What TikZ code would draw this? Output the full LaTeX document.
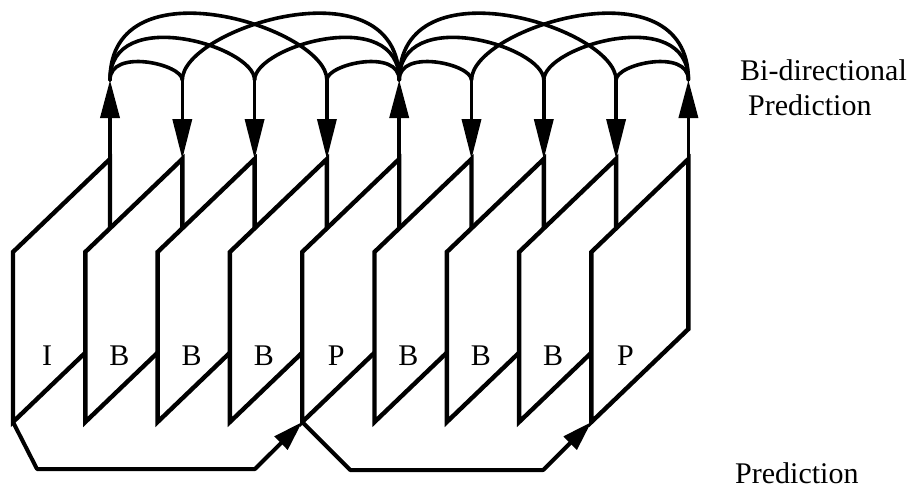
\documentclass[tikz,border=0pt]{standalone}
\usepackage{fontspec}
\setmainfont{Liberation Serif}
\usetikzlibrary{arrows.meta}

\begin{document}
\begin{tikzpicture}[
  x=1pt,y=-1pt,
  frame/.style={draw,fill=white,line width=4.4pt},
  link/.style={line width=3.6pt,line cap=round},
  uparr/.style={line width=3.6pt,-{Triangle[length=38pt,width=19pt]}},
  downarr/.style={line width=3.6pt,-{Triangle[length=40pt,width=19pt]}},
  predarr/.style={line width=4pt,line join=round,-{Triangle[length=30pt,width=18pt]}},
  lbl/.style={font=\fontsize{30}{36}\selectfont,inner sep=0pt}
]
  \useasboundingbox (0,0) rectangle (913,488);

  \foreach \lab [count=\i from 0] in {I,B,B,B,P,B,B,B,P} {
    \pgfmathsetmacro\xl{13+72.3*\i}
    \draw[frame] (\xl,252) -- ++(97,-93) -- ++(0,170) -- ++(-97,93) -- cycle;
    \node[lbl,anchor=base] (lab\i) at (\xl+34,365) {\lab};
    \coordinate (foot\i) at (\xl,422);
    \coordinate (top\i) at (\xl+97,159);
    \coordinate (hub\i) at (\xl+97,80);
  }

  \foreach \i in {0,4,8}
    \draw[uparr] (top\i) -- (hub\i);
  \foreach \i in {1,2,3,5,6,7}
    \draw[downarr] (hub\i) -- (top\i);

  \foreach \s/\e in {0/4,4/8} {
    \foreach \k/\ka/\kb in {1/32/16,2/76/34,3/120/52} {
      \pgfmathtruncatemacro\fw{\s+\k}
      \pgfmathtruncatemacro\bw{\e-\k}
      \draw[link] (hub\s) .. controls +(0,-\ka) and +(0,-\kb) .. (hub\fw);
      \draw[link] (hub\e) .. controls +(0,-\ka) and +(0,-\kb) .. (hub\bw);
    }
  }

  \draw[predarr] (foot0) -- ++(24,47) -- ++(218,0) -- (foot4);
  \draw[predarr] (foot4) -- ++(48,48) -- ++(193,0) -- (foot8);

  \node[lbl,anchor=base west] (bidir) at (740,80) {Bi-directional};
  \node[lbl,anchor=base west] (bipred) at (748,115) {Prediction};
  \node[lbl,anchor=base west] (pred) at (735,483) {Prediction};
\end{tikzpicture}
\end{document}
